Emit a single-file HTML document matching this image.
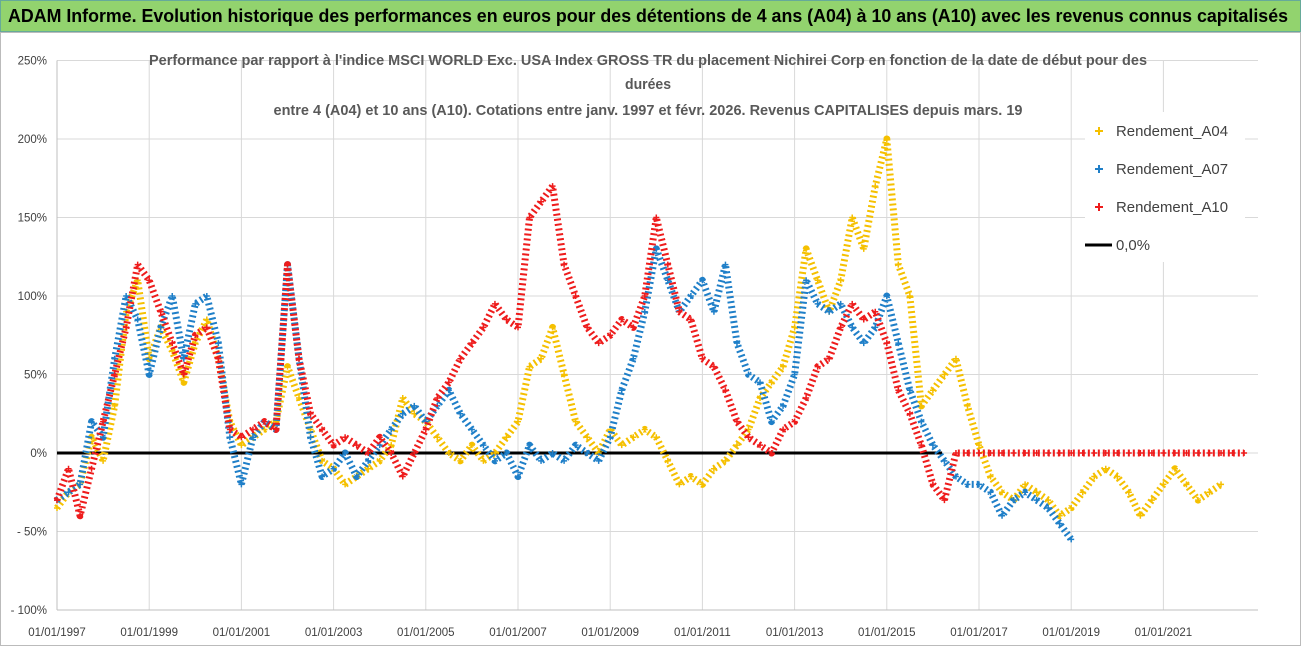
<!DOCTYPE html>
<html><head><meta charset="utf-8"><style>
body{margin:0;width:1302px;height:647px;overflow:hidden;background:#fff;font-family:"Liberation Sans",sans-serif}
svg{position:absolute;left:0;top:0}
</style></head><body>
<svg id="c" width="1302" height="647"></svg>
<script>
const yTicks=[250,200,150,100,50,0,-50,-100];
const yTickLabels=["250%","200%","150%","100%","50%","0%","- 50%","- 100%"];
const xTickYears=[1997,1999,2001,2003,2005,2007,2009,2011,2013,2015,2017,2019,2021];
const xTickLabels=["01/01/1997","01/01/1999","01/01/2001","01/01/2003","01/01/2005","01/01/2007","01/01/2009","01/01/2011","01/01/2013","01/01/2015","01/01/2017","01/01/2019","01/01/2021"];
const a04Start=1997, a04=[-35,-25,-20,10,-5,30,90,110,60,80,65,45,70,85,60,20,5,10,15,20,55,35,15,-5,-10,-20,-15,-10,-5,5,35,25,20,10,0,-5,5,-5,0,10,20,55,60,80,50,20,10,0,15,5,10,15,10,-5,-20,-15,-20,-10,-5,5,15,35,45,55,80,130,110,90,110,150,130,170,200,120,100,30,40,50,60,30,5,-15,-25,-30,-20,-25,-30,-40,-35,-25,-15,-10,-15,-25,-40,-30,-20,-10,-20,-30,-25,-20];
const a07Start=1997, a07=[-30,-25,-20,20,10,60,100,85,50,80,100,60,95,100,70,10,-20,10,20,15,120,60,10,-15,-10,0,-15,-5,5,15,25,30,20,30,40,25,15,5,-5,0,-15,5,-5,0,-5,5,0,-5,10,40,60,90,130,110,90,100,110,90,120,70,50,45,20,30,50,110,95,90,95,80,70,80,100,70,40,20,5,-5,-15,-20,-20,-25,-40,-30,-25,-30,-35,-45,-55];
const a10Start=1997, a10=[-30,-10,-40,-10,20,50,80,120,110,90,70,50,75,80,60,15,10,15,20,15,120,60,25,15,5,10,5,0,10,0,-15,0,15,35,45,60,70,80,95,85,80,150,160,170,120,100,80,70,75,85,80,100,150,120,90,85,60,55,40,20,10,5,0,15,20,35,55,60,80,95,85,90,70,40,25,5,-20,-30,0,0,0,0,0,0,0,0,0,0,0,0,0,0,0,0,0,0,0,0,0,0,0,0,0,0];
const X0=57,X1=1258,Y0=453;
const xs=y=>X0+(y-1997)*46.1;
const ys=v=>Y0-v*1.57;
const svg=document.getElementById('c');const NS='http://www.w3.org/2000/svg';
function mk(t,a,p){const e=document.createElementNS(NS,t);for(const k in a)e.setAttribute(k,a[k]);(p||svg).appendChild(e);return e;}
mk('rect',{x:0.5,y:32.5,width:1300,height:613,fill:'#fff',stroke:'#bbb'});
const hb=mk('rect',{x:0.5,y:0.5,width:1300,height:31,fill:'#92d36e',stroke:'#6a9'});

const ht=mk('text',{x:8,y:22,'font-size':18,'font-weight':'bold',fill:'#000',textLength:1280,lengthAdjust:'spacingAndGlyphs'});
ht.textContent="ADAM Informe. Evolution historique des performances en euros pour des détentions de 4 ans (A04) à 10 ans (A10) avec les revenus connus capitalisés";

yTicks.forEach((v,i)=>{
 const l=mk('line',{x1:X0,x2:X1,y1:ys(v),y2:ys(v),stroke:'#d9d9d9'});
 
 const t=mk('text',{x:47,y:ys(v)+4,'text-anchor':'end','font-size':11.5,fill:'#404040'});t.textContent=yTickLabels[i];
 
});
xTickYears.forEach((y,i)=>{
 const l=mk('line',{x1:xs(y),x2:xs(y),y1:ys(250),y2:ys(-100),stroke:'#d9d9d9'});
 
 const t=mk('text',{x:xs(y),y:636,'text-anchor':'middle','font-size':11.5,fill:'#404040'});t.textContent=xTickLabels[i];
 
});
mk('line',{x1:X0,x2:X0,y1:ys(250),y2:ys(-100),stroke:'#bfbfbf'});
mk('line',{x1:X0,x2:X1,y1:ys(-100),y2:ys(-100),stroke:'#bfbfbf'});
const zl=mk('line',{x1:X0,x2:xs(2016.2),y1:ys(0),y2:ys(0),stroke:'#000','stroke-width':3});

function series(arr,start,col,name){
 const g=mk('g',{});
 const pts=arr.map((v,i)=>[xs(start+i*0.25),ys(v)]);
 mk('polyline',{points:pts.map(p=>p.join(',')).join(' '),fill:'none',stroke:col,'stroke-width':7,'stroke-linejoin':'round','stroke-dasharray':'2 3'},g);
 pts.forEach(p=>{mk('path',{d:`M${p[0]-3},${p[1]}h6M${p[0]},${p[1]-3}v6`,stroke:col,'stroke-width':1.5},g);});
}
series(a04,a04Start,'#f5c000','series-a04');
series(a07,a07Start,'#1f7fc8','series-a07');
series(a10,a10Start,'#ee1c1c','series-a10');
const tl=["Performance par rapport à l'indice MSCI WORLD Exc. USA Index GROSS TR  du placement Nichirei Corp en fonction de la date de début pour des","durées","entre 4 (A04) et 10 ans (A10). Cotations entre janv. 1997 et févr. 2026. Revenus CAPITALISES depuis mars. 19"];
const ty=[65,89,115];const tw=[998,46,749];
tl.forEach((s,i)=>{const t=mk('text',{x:648,y:ty[i],'text-anchor':'middle','font-size':15,'font-weight':'bold',fill:'#595959',textLength:tw[i],lengthAdjust:'spacingAndGlyphs'});t.textContent=s;
 });
mk('rect',{x:1085,y:112,width:160,height:150,fill:'#fff'});
const legN=['Rendement_A04','Rendement_A07','Rendement_A10','0,0%'];const legC=['#f5c000','#1f7fc8','#ee1c1c','#000'];
legN.forEach((n,i)=>{const y=131+i*38;const g=mk('g',{});
 if(i<3)mk('path',{d:`M1095,${y}h8M1099,${y-4}v8`,stroke:legC[i],'stroke-width':2},g);else mk('line',{x1:1085,x2:1112,y1:y,y2:y,stroke:'#000','stroke-width':3},g);
 const t=mk('text',{x:1116,y:y+5,'font-size':15,fill:'#404040',textLength:n.length>5?112:34,lengthAdjust:'spacingAndGlyphs'},g);t.textContent=n;});
</script>
</body></html>
